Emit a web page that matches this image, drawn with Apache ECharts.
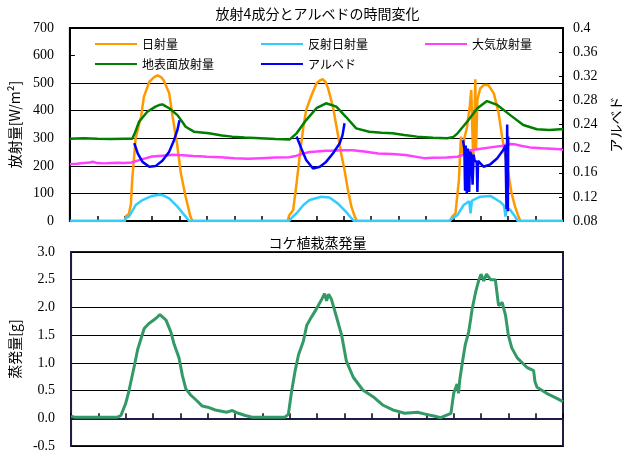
<!DOCTYPE html>
<html>
<head>
<meta charset="utf-8">
<script src="https://cdn.jsdelivr.net/npm/echarts@6/dist/echarts.min.js"></script>
<style>
  html, body { margin: 0; padding: 0; background: #fff; }
  #chart { width: 635px; height: 453px; }
</style>
</head>
<body>
<div id="chart"></div>
<script>
// Elapsed time in hours from the start of the record, 3 days, ticks every 4 h
const hourTicks = { min: 0, max: 72, interval: 4 };

// Radiation components [hour, W/m2]
const solar = [
  [0,0],[8,0],[8.2,18],[8.6,25],[8.9,60],[9.1,150],[9.6,300],[10.4,380],[10.8,450],[11.6,505],[12.3,522],[12.8,528],
  [13.3,522],[13.7,510],[14.5,463],[15.0,378],[15.7,270],[16.2,173],[16.9,88],[17.6,16],[17.9,0],
  [31.8,0],[32.0,20],[32.6,40],[33.1,137],[33.6,246],[34.1,342],[34.5,403],[35.3,457],[36.0,499],[36.5,510],[36.9,514],
  [37.3,505],[37.7,481],[38.4,415],[39.1,318],[39.6,246],[40.1,185],[40.6,112],[41.1,52],[41.6,16],[41.9,0],
  [55.5,0],[55.8,15],[56.3,28],[56.8,149],[57.1,306],[57.3,246],[57.6,300],[58.0,342],[58.4,420],[58.6,475],[58.8,300],
  [58.9,221],[59.1,400],[59.2,514],[59.3,258],[59.5,440],[59.9,480],[60.4,493],[61.1,493],[61.9,463],[62.6,391],
  [63.1,306],[63.6,233],[64.1,161],[64.5,100],[65.0,52],[65.5,16],[65.8,0],[72,0]
];
const reflected = [
  [0,0],[8.0,0],[8.2,12],[8.6,15],[8.9,28],[9.6,58],[10.6,76],[12.0,91],[13.0,95],[13.5,94],[14.5,82],[15.7,52],
  [16.9,16],[17.4,0],
  [32.0,0],[32.4,12],[33.1,28],[34.1,58],[35.0,76],[36.7,88],[37.9,85],[39.1,64],[40.3,34],[41.1,10],[41.5,0],
  [55.3,0],[56.0,12],[56.6,22],[57.5,58],[58.3,72],[58.5,28],[58.7,74],[59.9,88],[61.4,91],[62.8,70],[63.4,55],
  [63.6,16],[63.8,50],[64.3,40],[65.0,16],[65.4,0],[72,0]
];
const atmospheric = [
  [0,207],[1,208],[2,210],[3,212],[3.3,215],[4,210],[5,209],[6,210],[7,211],[8,210],[9,212],[10,220],[11,227],
  [12,234],[13,236],[14,238],[15,240],[15.9,239],[17,238],[18,236],[19,235],[20,233],[22,231],[24,228],[26,226],
  [28,228],[30,230],[32,231],[33,236],[34.1,245],[35,250],[36,252],[37.4,255],[38,255],[40,257],[41.3,257],[43,252],
  [45,245],[47,243],[49,239],[51.7,228],[53,229],[55,230],[56.6,233],[57.3,239],[58.5,257],[60,262],[61.4,267],
  [63,272],[64.3,279],[65,278],[66,272],[67.2,267],[69,264],[71.6,260],[72,258]
];
const surface = [
  [0,298],[2,300],[4,298],[6,297],[8,298],[9.1,298],[9.5,320],[10.1,360],[11.3,396],[12.5,415],[13.2,422],[13.5,423],
  [14.5,409],[15.7,384],[16.4,360],[16.9,342],[18.1,324],[20.3,318],[22.2,310],[23.7,306],[25.5,303],[27.8,300],
  [30,297],[32.1,296],[33.1,318],[34.5,366],[36,409],[37.4,427],[38.9,415],[40.3,378],[41.8,336],[43.7,324],
  [45.5,320],[47.1,318],[48.8,312],[50.7,306],[53,302],[55.1,300],[56.0,305],[56.6,318],[58,360],[59.5,409],
  [60.9,435],[62.4,421],[64.3,384],[66.2,348],[68.2,333],[70,330],[71.6,333],[72,333]
];
// Albedo [hour, ratio], daytime only
const albedo = [
  [9.4,0.209],[9.9,0.192],[10.6,0.178],[11.6,0.170],[12.5,0.171],[13.5,0.180],[14.5,0.195],[15.2,0.214],[15.7,0.231],
  [16.0,0.247],[24,null],
  [33.1,0.220],[33.8,0.200],[34.5,0.181],[35.5,0.167],[36.5,0.170],[37.4,0.178],[38.4,0.192],[39.4,0.209],[39.8,0.222],
  [40.1,0.242],[48,null],
  [57.4,0.214],[57.6,0.200],[57.7,0.130],[57.8,0.205],[57.95,0.126],[58.1,0.200],[58.3,0.128],[58.45,0.195],[58.6,0.190],
  [58.8,0.140],[58.95,0.190],[59.1,0.180],[59.4,0.178],[59.5,0.128],[59.6,0.180],[59.9,0.176],[60.4,0.170],[61.4,0.174],
  [62.4,0.184],[63.3,0.198],[63.6,0.205],[63.75,0.100],[63.85,0.240],[63.95,0.096],[64.0,0.220]
];
// Moss planting evaporation [hour, g]
const evaporation = [
  [0,0.04],[0.5,0.02],[3,0.02],[6.8,0.02],[7.3,0.05],[8.0,0.27],[8.5,0.51],[9.3,0.97],[9.75,1.24],[10.7,1.62],
  [11.4,1.71],[12.4,1.80],[13.0,1.87],[13.9,1.77],[14.6,1.56],[15.1,1.33],[15.8,1.09],[16.3,0.77],[16.8,0.53],
  [17.5,0.42],[18.3,0.33],[19.2,0.22],[20,0.20],[21.1,0.15],[22.8,0.11],[23.6,0.14],[24.5,0.09],[25.5,0.05],
  [26.5,0.02],[31.3,0.02],[31.8,0.07],[32.3,0.50],[32.8,0.86],[33.3,1.15],[34.0,1.39],[34.5,1.68],[35.2,1.83],
  [35.9,1.97],[36.7,2.15],[37.1,2.25],[37.4,2.12],[37.7,2.24],[38.1,2.15],[38.8,1.85],[39.6,1.50],[40.3,1.03],
  [41.3,0.74],[42.7,0.51],[44.2,0.39],[45.6,0.24],[47.1,0.15],[48.0,0.12],[48.8,0.09],[50.7,0.11],[52,0.07],
  [53.1,0.04],[54.1,0.01],[55.6,0.09],[56.0,0.45],[56.5,0.62],[56.7,0.45],[56.9,0.70],[57.3,1.03],[57.7,1.33],
  [58.2,1.56],[58.5,1.80],[58.7,1.97],[59.2,2.27],[59.7,2.50],[60.0,2.60],[60.4,2.48],[60.8,2.60],[61.4,2.50],
  [62.1,2.50],[62.5,2.10],[62.6,2.03],[63.1,2.09],[63.6,1.85],[64.0,1.50],[64.5,1.27],[65.3,1.09],[66.7,0.92],
  [67.7,0.86],[67.9,0.66],[68.2,0.56],[69.6,0.45],[71.1,0.36],[72,0.30]
];

const titles = ['放射4成分とアルベドの時間変化', 'コケ植栽蒸発量'];
const names = ['日射量', '反射日射量', '大気放射量', '地表面放射量', 'アルベド'];
const colors = ['#FF9900', '#33CCFF', '#FF40FF', '#008000', '#0000FF'];

const serif = 'Liberation Serif';
const gothic = 'Noto Sans CJK JP';

function legendAt(left, items) {
  return {
    data: items, left: left, top: 32, orient: 'vertical',
    icon: 'rect', itemWidth: 42, itemHeight: 2, itemGap: 6,
    textStyle: { fontFamily: gothic, fontSize: 12, color: '#000', lineHeight: 14 }
  };
}

const xAxisBase = {
  type: 'value', ...hourTicks,
  axisLine: { show: true, lineStyle: { color: '#000', width: 2 } },
  axisTick: { show: true, inside: true, length: 5, lineStyle: { color: '#000', width: 1.5 } },
  axisLabel: { show: false },
  splitLine: { show: false }
};

const chart = echarts.init(document.getElementById('chart'), null, { renderer: 'canvas' });
chart.setOption({
  animation: false,
  backgroundColor: '#fff',
  title: [
    { text: titles[0], left: 'center', top: 2, textStyle: { fontFamily: gothic, fontSize: 14, fontWeight: 'normal', color: '#000' } },
    { text: titles[1], left: 'center', top: 231, textStyle: { fontFamily: gothic, fontSize: 14, fontWeight: 'normal', color: '#000' } }
  ],
  legend: [
    legendAt(90, [names[0], names[3]]),
    legendAt(256, [names[1], names[4]]),
    legendAt(420, [names[2]])
  ],
  grid: [
    { left: 67, right: 72, top: 28, bottom: 232, show: true, borderColor: '#000', borderWidth: 2, backgroundColor: 'transparent' },
    { left: 68, right: 72, top: 252, bottom: 2, show: true, borderColor: '#1c1c44', borderWidth: 2, backgroundColor: 'transparent' }
  ],
  xAxis: [
    { ...xAxisBase, gridIndex: 0 },
    { ...xAxisBase, gridIndex: 1, axisLine: { show: true, lineStyle: { color: '#1c1c44', width: 2 } } }
  ],
  yAxis: [
    {
      type: 'value', gridIndex: 0, min: 0, max: 700, interval: 100,
      name: '放射量[W/m²]', nameLocation: 'middle', nameRotate: 90, nameGap: 41,
      nameTextStyle: { fontFamily: gothic, fontSize: 14, color: '#000' },
      axisLine: { show: true, lineStyle: { color: '#000', width: 2 } },
      axisTick: { show: true, inside: true, length: 5, lineStyle: { color: '#000' } },
      axisLabel: { margin: 16, fontFamily: serif, fontSize: 14, color: '#000' },
      // the 600 line is left out behind the legend
      splitLine: { show: true, lineStyle: { color: ['#000','#000','#000','#000','#000','#000','rgba(0,0,0,0)','#000'], width: 1.2 } }
    },
    {
      type: 'value', gridIndex: 0, position: 'right', min: 0.08, max: 0.4, interval: 0.04,
      name: 'アルベド', nameLocation: 'middle', nameRotate: 90, nameGap: 45,
      nameTextStyle: { fontFamily: gothic, fontSize: 14, color: '#000' },
      axisLine: { show: true, lineStyle: { color: '#000', width: 2 } },
      axisTick: { show: true, inside: true, length: 4, lineStyle: { color: '#000' } },
      axisLabel: { margin: 10, fontFamily: serif, fontSize: 14, color: '#000', formatter: v => String(+v.toFixed(2)) },
      splitLine: { show: false }
    },
    {
      type: 'value', gridIndex: 1, min: -0.5, max: 3.0, interval: 0.5,
      name: '蒸発量[g]', nameLocation: 'middle', nameRotate: 90, nameGap: 40,
      nameTextStyle: { fontFamily: gothic, fontSize: 14, color: '#000' },
      axisLine: { show: true, lineStyle: { color: '#1c1c44', width: 2 } },
      axisTick: { show: false },
      axisLabel: { margin: 16, fontFamily: serif, fontSize: 14, color: '#000', formatter: v => v.toFixed(1) },
      splitLine: { show: true, lineStyle: { color: '#000', width: 1.2 } }
    }
  ],
  series: [
    { name: names[0], type: 'line', xAxisIndex: 0, yAxisIndex: 0, data: solar, showSymbol: false, symbol: 'none', color: colors[0], lineStyle: { width: 2.5 } },
    { name: names[1], type: 'line', xAxisIndex: 0, yAxisIndex: 0, data: reflected, showSymbol: false, symbol: 'none', color: colors[1], lineStyle: { width: 2.5 } },
    { name: names[2], type: 'line', xAxisIndex: 0, yAxisIndex: 0, data: atmospheric, showSymbol: false, symbol: 'none', color: colors[2], lineStyle: { width: 2.5 } },
    { name: names[3], type: 'line', xAxisIndex: 0, yAxisIndex: 0, data: surface, showSymbol: false, symbol: 'none', color: colors[3], lineStyle: { width: 2.5 } },
    { name: names[4], type: 'line', xAxisIndex: 0, yAxisIndex: 1, data: albedo, showSymbol: false, symbol: 'none', connectNulls: false, color: colors[4], lineStyle: { width: 2.5 } },
    { name: '蒸発量', type: 'line', xAxisIndex: 1, yAxisIndex: 2, data: evaporation, showSymbol: false, symbol: 'none', color: '#339966', lineStyle: { width: 3 } }
  ]
});
</script>
</body>
</html>
